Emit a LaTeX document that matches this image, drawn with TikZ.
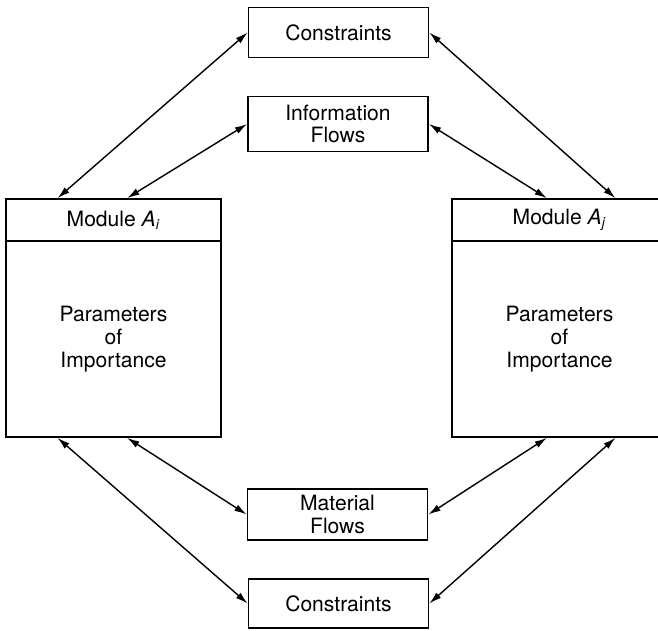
\documentclass[tikz,border=0pt]{standalone}
\usepackage{fontspec}
\setmainfont{TeX Gyre Heros}
\usepackage{tikz}
\usetikzlibrary{arrows.meta,calc}

\begin{document}
\begin{tikzpicture}[
  x=0.02cm, y=-0.02cm,
  box/.style={draw, line width=1pt, minimum width=3.6cm, align=center,
    font=\fontsize{12}{13}\selectfont, inner sep=2pt},
  modhead/.style={draw, line width=1pt, minimum width=4.3cm, minimum height=0.84cm,
    font=\fontsize{12}{13}\selectfont},
  modbody/.style={draw, line width=1pt, minimum width=4.3cm, minimum height=3.92cm,
    align=center, font=\fontsize{12}{13}\selectfont},
  link/.style={{Latex[length=7pt,width=4pt]}-{Latex[length=7pt,width=4pt]}, line width=0.8pt}
]
  \useasboundingbox (0,0) rectangle (658,631);
  \clip (0,0) rectangle (658,631);

  % middle column
  \node[box, minimum height=1.0cm] (topcon) at (338.5,32.5) {Constraints};
  \node[box, minimum height=1.1cm] (info) at (338,124) {Information\\Flows};
  \node[box, minimum height=1.02cm] (mat) at (337.5,514.5) {Material\\Flows};
  \node[box, minimum height=0.98cm] (botcon) at (338.5,603.5) {Constraints};

  % the two modules
  \node[modhead] (headi) at (113.5,220) {Module \textit{A}\textsubscript{\textit{i}}};
  \node[modbody] (bodyi) at (113.5,339) {Parameters\\of\\Importance};
  \node[modhead] (headj) at (559.5,220) {Module \textit{A}\textsubscript{\textit{j}}};
  \node[modbody] (bodyj) at (559.5,339) {Parameters\\of\\Importance};

  % links
  \draw[link] ($(headi.north west)!0.242!(headi.north east)$) -- (topcon.west);
  \draw[link] ($(headi.north west)!0.563!(headi.north east)$) -- (info.west);
  \draw[link] ($(headj.north west)!0.442!(headj.north east)$) -- (info.east);
  \draw[link] ($(headj.north west)!0.758!(headj.north east)$) -- (topcon.east);
  \draw[link] ($(bodyi.south west)!0.242!(bodyi.south east)$) -- (botcon.west);
  \draw[link] ($(bodyi.south west)!0.563!(bodyi.south east)$) -- (mat.west);
  \draw[link] ($(bodyj.south west)!0.442!(bodyj.south east)$) -- (mat.east);
  \draw[link] ($(bodyj.south west)!0.758!(bodyj.south east)$) -- (botcon.east);
\end{tikzpicture}
\end{document}
